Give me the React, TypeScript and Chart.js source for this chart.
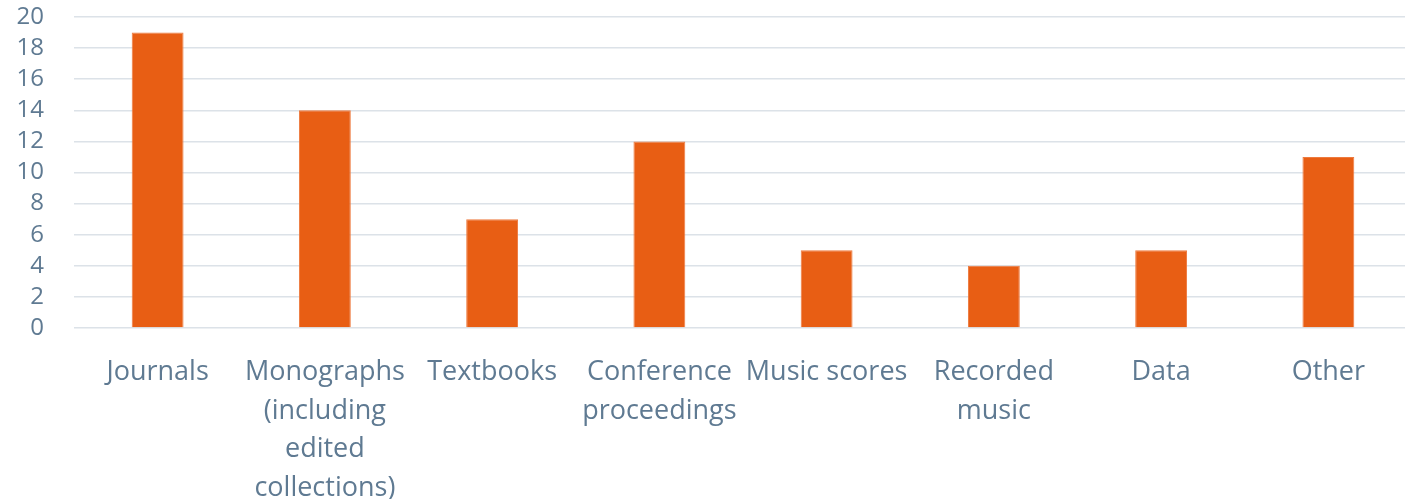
import React, { useEffect, useRef } from "react";
import { Chart, registerables } from "chart.js";

Chart.register(...registerables);

const categories: (string | string[])[] = [
  "Journals",
  ["Monographs", "(including", "edited", "collections)"],
  "Textbooks",
  ["Conference", "proceedings"],
  "Music scores",
  ["Recorded", "music"],
  "Data",
  "Other",
];
const counts = [19, 14, 7, 12, 5, 4, 5, 11];
const yMin = 0;
const yMax = 20;
const yStep = 2;

const TEXT = "#5f7a92";
const BAR = "#e85e14";
const GRID = "#dce2e8";
const FONT = "'Open Sans', 'Noto Sans', sans-serif";

export default function App() {
  const ref = useRef<HTMLCanvasElement | null>(null);

  useEffect(() => {
    document.body.style.margin = "0";
    if (!ref.current) return;
    const chart = new Chart(ref.current, {
      type: "bar",
      data: {
        labels: categories,
        datasets: [
          {
            data: counts,
            backgroundColor: BAR,
            borderColor: "#ee7a3e",
            borderWidth: 1,
            categoryPercentage: 1,
            barPercentage: 0.31,
          },
        ],
      },
      options: {
        animation: false,
        responsive: false,
        maintainAspectRatio: false,
        layout: { padding: { top: 17, left: 0, right: 0, bottom: 0 } },
        plugins: { legend: { display: false }, tooltip: { enabled: false } },
        scales: {
          x: {
            grid: { display: false, drawTicks: false },
            border: { display: false },
            ticks: {
              color: TEXT,
              font: { family: FONT, size: 27, lineHeight: 1.43 },
              padding: 25,
              maxRotation: 0,
              autoSkip: false,
            },
            afterFit: (s: any) => {
              s.height = 171;
              s.paddingLeft = 0;
              s.paddingRight = 0;
            },
          },
          y: {
            min: yMin,
            max: yMax,
            grid: { color: GRID, lineWidth: 1.5, drawTicks: false },
            border: { display: false },
            ticks: {
              stepSize: yStep,
              autoSkip: false,
              color: TEXT,
              font: { family: FONT, size: 24 },
              padding: 30,
            },
            afterFit: (s: any) => {
              s.width = 74;
              s.paddingTop = 0;
              s.paddingBottom = 0;
            },
          },
        },
      },
    });
    return () => chart.destroy();
  }, []);

  return (
    <div style={{ position: "absolute", left: 0, top: 0, width: 1405, height: 499, overflow: "hidden", background: "#fff" }}>
      <canvas ref={ref} width={1412} height={499} style={{ width: 1412, height: 499, display: "block" }} />
    </div>
  );
}
